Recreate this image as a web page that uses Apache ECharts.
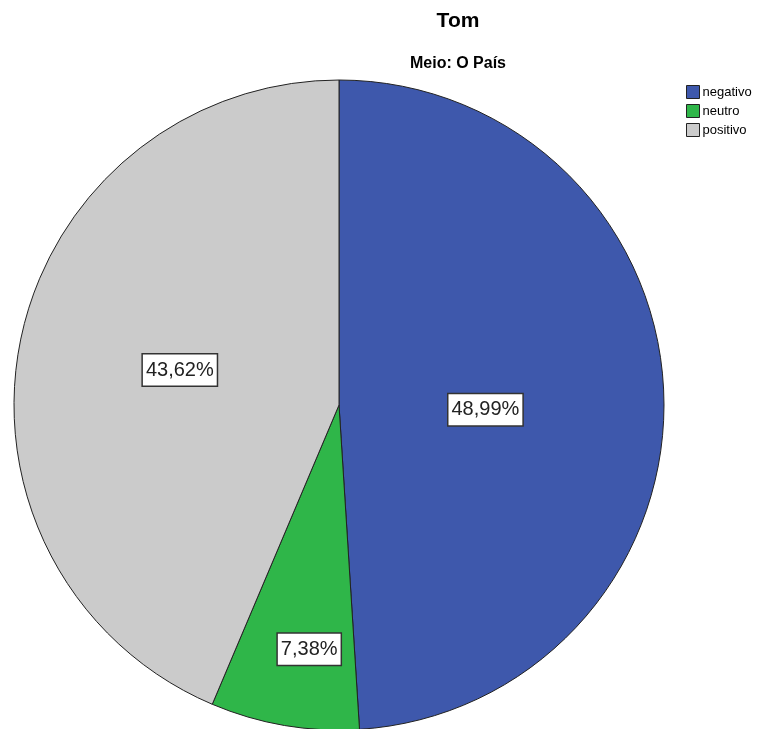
<!DOCTYPE html>
<html>
<head>
<meta charset="utf-8">
<script src="https://cdn.jsdelivr.net/npm/echarts@6/dist/echarts.min.js"></script>
<style>
html, body { margin: 0; padding: 0; background: #fff; }
#main { width: 772px; height: 729px; }
</style>
</head>
<body>
<div id="main"></div>
<script>
var categories = ['negativo', 'neutro', 'positivo'];
var values = [48.99, 7.38, 43.62];
var colors = ['#3e58ac', '#2fb649', '#cbcbcb'];

var data2 = [];
for (var i = 0; i < categories.length; i++) {
    data2.push({ name: categories[i], value: values[i], itemStyle: { color: colors[i] } });
}

var myChart = echarts.init(document.getElementById('main'));
var option = {
    animation: false,
    title: [
        {
            text: 'Tom',
            left: 453,
            top: 6,
            textAlign: 'center',
            textStyle: { fontFamily: 'Liberation Sans', fontSize: 21, fontWeight: 'bold', color: '#000' }
        },
        {
            text: 'Meio: O País',
            left: 453,
            top: 51,
            textAlign: 'center',
            textStyle: { fontFamily: 'Liberation Sans', fontSize: 16, fontWeight: 'bold', color: '#000' }
        }
    ],
    legend: {
        orient: 'vertical',
        left: 681,
        top: 80,
        itemWidth: 13,
        itemHeight: 13,
        itemGap: 5,
        icon: 'rect',
        data: categories,
        itemStyle: { borderColor: '#222', borderWidth: 1 },
        textStyle: { fontFamily: 'Liberation Sans', fontSize: 13, color: '#000', padding: [0, 0, 0, -2] }
    },
    series: [
        {
            type: 'pie',
            center: [339, 405],
            radius: [0, 325],
            startAngle: 90,
            clockwise: true,
            silent: true,
            itemStyle: { borderColor: '#222', borderWidth: 1 },
            label: {
                show: true,
                position: 'inside',
                formatter: function (p) { return p.value.toFixed(2).replace('.', ',') + '%'; },
                fontFamily: 'Liberation Sans',
                fontSize: 20,
                color: '#222',
                backgroundColor: '#fff',
                borderColor: '#333',
                borderWidth: 1.5,
                padding: [6, 3, 5, 3]
            },
            labelLine: { show: false },
            labelLayout: function (params) {
                if (params.dataIndex === 1) return { dx: -2, dy: 81 };
                if (params.dataIndex === 0) return { dx: -19, dy: 10 };
                return { dx: 3, dy: -2 };
            },
            data: data2
        }
    ]
};
myChart.setOption(option, true);
</script>
</body>
</html>
